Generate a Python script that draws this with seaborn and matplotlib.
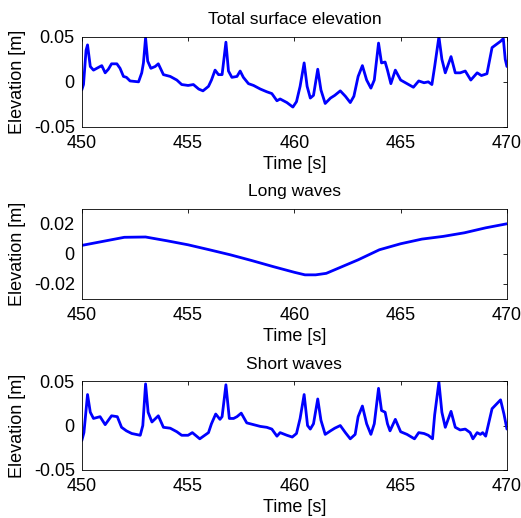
import numpy as np
import pandas as pd
import matplotlib
matplotlib.use("Agg")
import matplotlib.pyplot as plt
import seaborn as sns

# ---- data ----
total_t = [450.0, 450.08, 450.2, 450.27, 450.4, 450.55, 450.86, 450.94, 451.1, 451.25, 451.4, 451.65,
           451.8, 451.96, 452.1, 452.27, 452.67, 452.82, 452.9, 453.0, 453.1, 453.25, 453.45, 453.6,
           453.84, 454.16, 454.47, 454.7, 455.0, 455.25, 455.5, 455.7, 455.96, 456.1, 456.27, 456.43,
           456.6, 456.78, 456.9, 457.06, 457.3, 457.45, 457.6, 457.84, 458.08, 458.4, 458.7, 458.94,
           459.18, 459.33, 459.65, 459.93, 460.1, 460.27, 460.46, 460.6, 460.75, 460.9, 461.1, 461.25,
           461.45, 461.7, 461.9, 462.16, 462.4, 462.63, 462.8, 463.0, 463.2, 463.4, 463.6, 463.76,
           463.96, 464.1, 464.27, 464.38, 464.54, 464.75, 465.0, 465.3, 465.6, 465.85, 466.1, 466.3,
           466.47, 466.6, 466.8, 466.94, 467.1, 467.37, 467.57, 467.8, 468.04, 468.3, 468.6, 468.8,
           469.06, 469.3, 469.7, 469.83, 469.92, 470.0]
total_eta = [-0.009, -0.003, 0.035, 0.041, 0.017, 0.013, 0.017, 0.018, 0.010, 0.014, 0.020, 0.020,
             0.015, 0.006, 0.005, 0.001, 0.000, 0.010, 0.021, 0.049, 0.023, 0.015, 0.017, 0.020,
             0.008, 0.006, 0.002, -0.003, -0.004, -0.003, -0.008, -0.010, -0.005, 0.002, 0.013, 0.008,
             0.008, 0.044, 0.012, 0.005, 0.006, 0.012, 0.005, -0.002, -0.004, -0.008, -0.011, -0.013,
             -0.021, -0.019, -0.023, -0.028, -0.022, -0.005, 0.021, -0.005, -0.018, -0.015, 0.014, -0.009,
             -0.024, -0.018, -0.015, -0.010, -0.016, -0.023, -0.016, 0.006, 0.018, 0.002, -0.007, 0.002,
             0.043, 0.021, 0.022, 0.013, -0.002, 0.013, 0.002, -0.002, -0.006, 0.001, -0.001, 0.000,
             -0.003, 0.017, 0.050, 0.025, 0.010, 0.028, 0.010, 0.010, 0.012, 0.002, 0.010, 0.007,
             0.009, 0.038, 0.045, 0.048, 0.025, 0.017]

long_t = [450, 451, 452, 453, 454, 455, 456, 457, 458, 459, 460, 460.5, 461, 461.5, 462,
          463, 464, 465, 466, 467, 468, 469, 470]
long_eta = [0.0056, 0.0083, 0.0110, 0.0112, 0.0087, 0.0060, 0.0027, -0.0007, -0.0045, -0.0085,
            -0.0123, -0.0140, -0.0140, -0.0130, -0.0100, -0.0040, 0.0027, 0.0067, 0.0098, 0.0116,
            0.0140, 0.0173, 0.0200]

short_t = [450.0, 450.1, 450.27, 450.4, 450.55, 450.86, 451.1, 451.25, 451.4, 451.67, 451.87, 452.1,
           452.35, 452.75, 452.87, 453.0, 453.12, 453.3, 453.6, 453.84, 454.16, 454.47, 454.7, 455.0,
           455.2, 455.55, 455.96, 456.1, 456.3, 456.5, 456.6, 456.78, 456.94, 457.14, 457.3, 457.5,
           457.76, 458.08, 458.4, 458.7, 458.94, 459.18, 459.33, 459.65, 459.9, 460.1, 460.27, 460.46,
           460.62, 460.75, 460.9, 461.1, 461.25, 461.45, 461.7, 461.9, 462.16, 462.4, 462.63, 462.86,
           463.0, 463.2, 463.4, 463.6, 463.76, 463.96, 464.1, 464.27, 464.38, 464.5, 464.75, 465.0,
           465.3, 465.65, 465.85, 466.1, 466.3, 466.5, 466.6, 466.8, 466.94, 467.1, 467.37, 467.57,
           467.8, 468.04, 468.27, 468.4, 468.6, 468.75, 468.86, 469.0, 469.3, 469.7, 469.86, 470.0]
short_eta = [-0.017, -0.008, 0.035, 0.015, 0.008, 0.010, 0.001, 0.006, 0.011, 0.010, -0.002, -0.006,
             -0.009, -0.011, 0.000, 0.047, 0.015, 0.004, 0.011, -0.002, -0.003, -0.007, -0.011, -0.011,
             -0.008, -0.015, -0.008, 0.002, 0.013, 0.007, 0.010, 0.046, 0.008, 0.008, 0.010, 0.014,
             0.003, 0.001, -0.001, -0.002, -0.004, -0.012, -0.008, -0.011, -0.013, -0.009, 0.008, 0.035,
             0.000, -0.004, 0.002, 0.030, 0.006, -0.010, -0.006, -0.003, 0.000, -0.008, -0.015, -0.010,
             0.010, 0.022, 0.002, -0.010, 0.002, 0.042, 0.017, 0.015, 0.002, -0.006, 0.007, -0.007,
             -0.010, -0.015, -0.008, -0.009, -0.011, -0.015, 0.012, 0.049, 0.015, -0.002, 0.016, -0.002,
             -0.005, -0.004, -0.008, -0.015, -0.008, -0.010, -0.008, -0.012, 0.019, 0.029, 0.013, -0.004]

titles = ["Total surface elevation", "Long waves", "Short waves"]
xticks = [450, 455, 460, 465, 470]
yticks_list = [[-0.05, 0, 0.05], [-0.02, 0, 0.02], [-0.05, 0, 0.05]]
yticklabels_list = [["-0.05", "0", "0.05"], ["-0.02", "0", "0.02"], ["-0.05", "0", "0.05"]]
ylims = [(-0.05, 0.05), (-0.03, 0.03), (-0.05, 0.05)]

sns.set_style("white")
plt.rcParams['font.family'] = ['Liberation Sans', 'DejaVu Sans']
plt.rcParams['font.size'] = 12
plt.rcParams['text.color'] = 'black'
plt.rcParams['axes.labelcolor'] = 'black'

fig = plt.figure(figsize=(5.21, 5.18), dpi=100)
positions = [(0.157, 0.755, 0.816, 0.174),
             (0.157, 0.423, 0.816, 0.174),
             (0.157, 0.093, 0.816, 0.171)]
series = [(total_t, total_eta), (long_t, long_eta), (short_t, short_eta)]

for pos, (t, e), title, yt, ytl, yl in zip(positions, series, titles, yticks_list, yticklabels_list, ylims):
    ax = fig.add_axes(pos)
    df = pd.DataFrame({"Time [s]": t, "Elevation [m]": e})
    sns.lineplot(data=df, x="Time [s]", y="Elevation [m]", ax=ax, color="#0000ff", linewidth=2.0)
    ax.set_xlim(450, 470)
    ax.set_ylim(*yl)
    ax.set_xticks(xticks)
    ax.set_xticklabels([str(v) for v in xticks])
    ax.set_yticks(yt)
    ax.set_yticklabels(ytl)
    ax.set_title(title, fontsize=12.5, pad=9, color="black")
    ax.set_xlabel("Time [s]", fontsize=13, labelpad=3, color="black")
    ax.set_ylabel("Elevation [m]", fontsize=13, labelpad=6, color="black")
    ax.tick_params(direction="in", length=3, width=0.6, top=True, right=True,
                   labelsize=13, colors="black")
    ax.tick_params(axis="x", pad=6)
    ax.tick_params(axis="y", pad=5)
    for s in ax.spines.values():
        s.set_color("black")
        s.set_linewidth(0.6)
        s.set_visible(True)

fig.savefig("out.png", dpi=100, facecolor="white")
